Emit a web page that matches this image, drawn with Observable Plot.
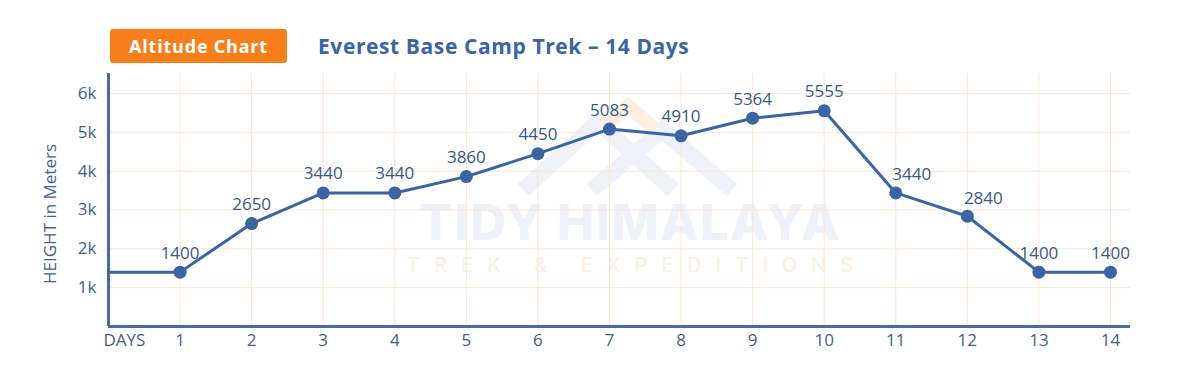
<!DOCTYPE html>
<html>
<head>
<meta charset="utf-8">
<script src="https://cdn.jsdelivr.net/npm/d3@7"></script>
<script src="https://cdn.jsdelivr.net/npm/@observablehq/plot@0.6"></script>
<style>
  html, body { margin: 0; padding: 0; background: #fff; }
  body { width: 1200px; height: 374px; position: relative; overflow: hidden; font-family: "Open Sans", Inter, sans-serif; }
  #header { position: relative; height: 70px; z-index: 1; }
  #badge { position: absolute; left: 110px; top: 29px; width: 177px; height: 34px; background: #f77f1b; border-radius: 3px;
           color: #fff; font-weight: 700; font-size: 18px; line-height: 34px; text-align: center; white-space: nowrap; letter-spacing: 0.8px; }
  #title { position: absolute; left: 318px; top: 31px; color: #3a64a3; font-weight: 700; font-size: 21px; line-height: 30px; white-space: nowrap; letter-spacing: 0.6px; }
  #wm { position: absolute; left: 0; top: 0; width: 1200px; height: 374px; z-index: 0; }
  #wm .big { position: absolute; left: 380px; top: 197px; width: 500px; text-align: center; font-family: Inter, sans-serif; font-weight: 800; font-size: 50px; line-height: 50px; color: #eef1f8; white-space: nowrap; letter-spacing: 1.5px; }
  #wm .small { position: absolute; left: 380px; top: 255px; width: 500px; text-align: center; font-family: Inter, sans-serif; font-weight: 500; font-size: 20px; line-height: 20px; color: #fcefe3; letter-spacing: 14px; white-space: nowrap; padding-left: 14px; box-sizing: border-box; }
  #wm svg { position: absolute; left: 0; top: 0; }
  #chart { position: relative; z-index: 1; }
</style>
</head>
<body>
<div id="wm">
  <svg width="1200" height="374">
    <polyline points="523,190 598,122 673,190" fill="none" stroke="#eef1f7" stroke-width="16"/>
    <polyline points="592,190 662,130 732,190" fill="none" stroke="#eef1f7" stroke-width="16"/>
    <polyline points="602,128 628,106 654,128" fill="none" stroke="#fdeedf" stroke-width="14"/>
  </svg>
  <div class="big">TIDY HIMALAYA</div><div class="small">TREK &amp; EXPEDITIONS</div>
</div>
<div id="header">
  <div id="badge">Altitude Chart</div>
  <div id="title">Everest Base Camp Trek – 14 Days</div>
</div>
<div id="chart"></div>
<script>
const days = [1, 2, 3, 4, 5, 6, 7, 8, 9, 10, 11, 12, 13, 14];
const heights = [1400, 2650, 3440, 3440, 3860, 4450, 5083, 4910, 5364, 5555, 3440, 2840, 1400, 1400];
const startDay = 0;
const startHeight = 1400;
const yTicks = [1000, 2000, 3000, 4000, 5000, 6000];
const yTickLabels = ["1k", "2k", "3k", "4k", "5k", "6k"];
const xTickLabels = ["1","2","3","4","5","6","7","8","9","10","11","12","13","14"];
const xAxisName = "DAYS";
const yAxisName = "HEIGHT in Meters";

const points = days.map((d, i) => ({day: d, h: heights[i], prev: i > 0 ? heights[i-1] : startHeight, next: i < heights.length - 1 ? heights[i+1] : heights[i]}));
const linePts = [{day: startDay, h: startHeight}, ...points];
// labels on a steadily falling stretch sit right of the dot so the line does not cross them
const falling = d => d.prev > d.h && d.next < d.h;

const blue = "#3a64a3";
const axisBlue = "#4a6aa3";
const tickColor = "#3f5f91";
const gridColor = "#fae6d4";
const font = "'Open Sans', Inter, sans-serif";

const chart = Plot.plot({
  width: 1200,
  height: 304,
  marginLeft: 108,
  marginRight: 70,
  marginTop: 3,
  marginBottom: 48,
  style: {fontFamily: font, background: "transparent", overflow: "visible"},
  x: {domain: [0, 14.28], axis: null},
  y: {domain: [0, 6515], axis: null},
  marks: [
    Plot.ruleY(yTicks, {stroke: gridColor, strokeWidth: 1}),
    Plot.ruleX(days, {stroke: gridColor, strokeWidth: 1}),
    Plot.ruleY([0], {stroke: axisBlue, strokeWidth: 3}),
    Plot.ruleX([0], {stroke: axisBlue, strokeWidth: 3}),
    Plot.axisY(yTicks, {tickSize: 0, tickPadding: 12, tickFormat: (d, i) => yTickLabels[i], fontSize: 17, fill: tickColor, label: null}),
    Plot.axisX(days, {tickSize: 0, tickPadding: 7, tickFormat: (d, i) => xTickLabels[i], fontSize: 17, fill: tickColor, label: null}),
    Plot.text([xAxisName], {frameAnchor: "bottom-left", dx: -5, dy: 14, fontSize: 17, fill: tickColor, textAnchor: "start", lineAnchor: "middle"}),
    Plot.text([yAxisName], {frameAnchor: "left", rotate: -90, dx: -58, dy: 14, fontSize: 17, fill: tickColor, textAnchor: "middle"}),
    Plot.line(linePts, {x: "day", y: "h", stroke: blue, strokeWidth: 3}),
    Plot.dot(points, {x: "day", y: "h", r: 6.5, fill: blue, stroke: "none"}),
    Plot.text(points.filter(d => !falling(d)), {x: "day", y: "h", text: d => String(d.h), dy: -19, fontSize: 17, fill: "#36588c"}),
    Plot.text(points.filter(falling), {x: "day", y: "h", text: d => String(d.h), dx: 16, dy: -18, fontSize: 17, fill: "#36588c"})
  ]
});
document.getElementById("chart").appendChild(chart);
</script>
</body>
</html>
